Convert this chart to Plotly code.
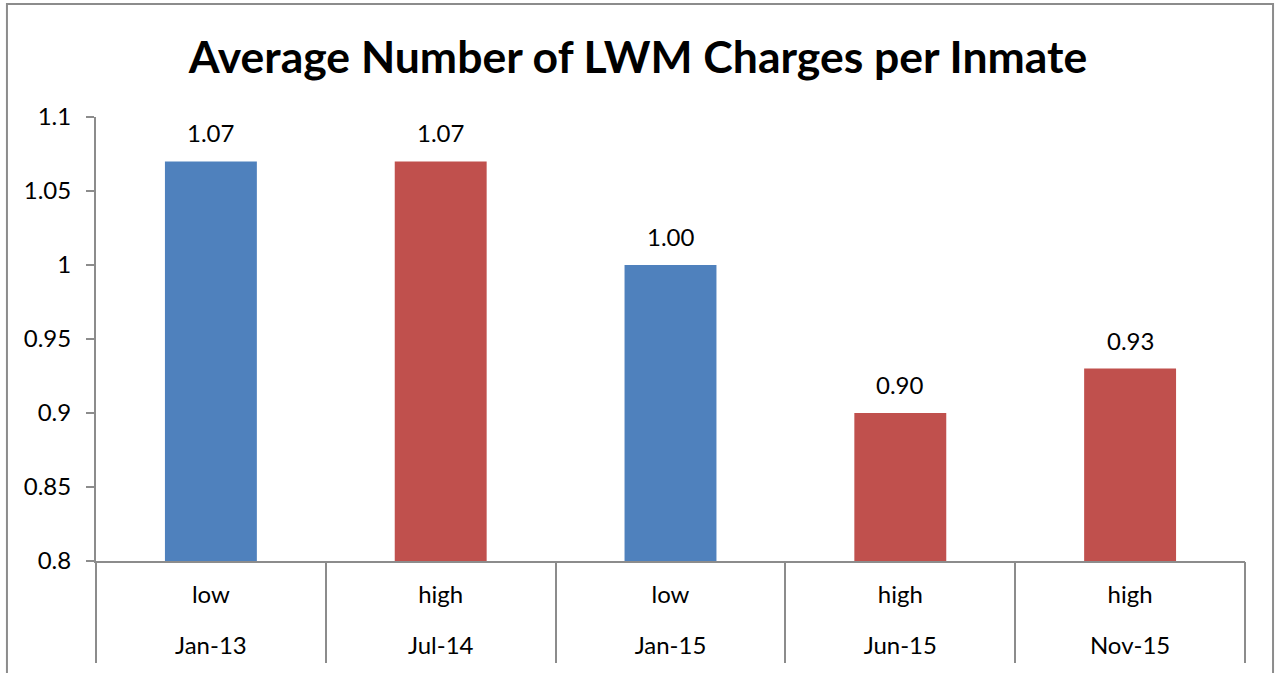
import plotly.graph_objects as go

dates = ["Jan-13", "Jul-14", "Jan-15", "Jun-15", "Nov-15"]
levels = ["low", "high", "low", "high", "high"]
values = [1.07, 1.07, 1.00, 0.90, 0.93]
level_colors = {"low": "#4F81BD", "high": "#C0504D"}
y_ticks = [0.8, 0.85, 0.9, 0.95, 1.0, 1.05, 1.1]
y_tick_text = ["0.8", "0.85", "0.9", "0.95", "1", "1.05", "1.1"]

FONT = "Lato, Open Sans, sans-serif"
GRAY = "#8C8C8C"

idx = list(range(len(dates)))
xrange = [-0.5, len(dates) - 0.5]
boundaries = [i - 0.5 for i in idx] + [idx[-1] + 0.5]

fig = go.Figure()
fig.add_trace(go.Bar(
    x=idx,
    y=values,
    marker=dict(color=[level_colors[l] for l in levels], line=dict(width=0)),
    width=0.4,
    hovertext=[f"{d} ({l})" for d, l in zip(dates, levels)],
    showlegend=False,
))

for i, v in zip(idx, values):
    fig.add_annotation(x=i, y=v, text=f"{v:.2f}", showarrow=False,
                       yanchor="bottom", yshift=12,
                       font=dict(size=24, color="black", family=FONT))

fig.update_layout(
    width=1276, height=673,
    margin=dict(l=96, r=31, t=117, b=112),
    paper_bgcolor="white", plot_bgcolor="white",
    showlegend=False,
    title=dict(text="<b>Average Number of LWM Charges per Inmate</b>",
               x=0.5, xref="container", xanchor="center",
               y=1 - 57 / 673, yanchor="middle",
               font=dict(size=44.5, color="black", family=FONT)),
    font=dict(family=FONT, size=24, color="black"),
    xaxis=dict(range=xrange, tickvals=idx, ticktext=levels,
               showline=True, linecolor=GRAY, linewidth=2,
               ticks="", ticklabelstandoff=11,
               tickfont=dict(size=24, color="black", family=FONT),
               showgrid=False, zeroline=False),
    xaxis2=dict(overlaying="x", side="bottom", anchor="y", range=xrange,
                tickvals=idx, ticktext=dates, ticks="", showline=False,
                ticklabelstandoff=68,
                tickfont=dict(size=24, color="black", family=FONT),
                showgrid=False, zeroline=False),
    xaxis3=dict(overlaying="x", side="bottom", anchor="y", range=xrange,
                tickvals=boundaries, showticklabels=False,
                ticks="outside", ticklen=101, tickwidth=2, tickcolor=GRAY,
                showline=False, showgrid=False, zeroline=False),
    yaxis=dict(range=[0.8, 1.1], tickvals=y_ticks, ticktext=y_tick_text,
               showline=True, linecolor=GRAY, linewidth=2,
               ticks="outside", ticklen=8, tickcolor=GRAY, tickwidth=2,
               ticklabelstandoff=10,
               showgrid=False, zeroline=False,
               tickfont=dict(size=24, color="black", family=FONT)),
)

# invisible traces so the overlay axes are drawn
fig.add_trace(go.Scatter(x=idx, y=values, xaxis="x2", yaxis="y", mode="markers",
                         marker=dict(opacity=0), hoverinfo="skip", showlegend=False))
fig.add_trace(go.Scatter(x=idx, y=values, xaxis="x3", yaxis="y", mode="markers",
                         marker=dict(opacity=0), hoverinfo="skip", showlegend=False))

fig.add_shape(type="rect", xref="paper", yref="paper",
              x0=-0.0775, x1=1.0244, y0=-0.27, y1=1.2545,
              line=dict(color=GRAY, width=2), fillcolor="rgba(0,0,0,0)", layer="below")

fig.write_html("out.html", config={"displayModeBar": False},
               post_script="document.body.style.margin='0px';")
